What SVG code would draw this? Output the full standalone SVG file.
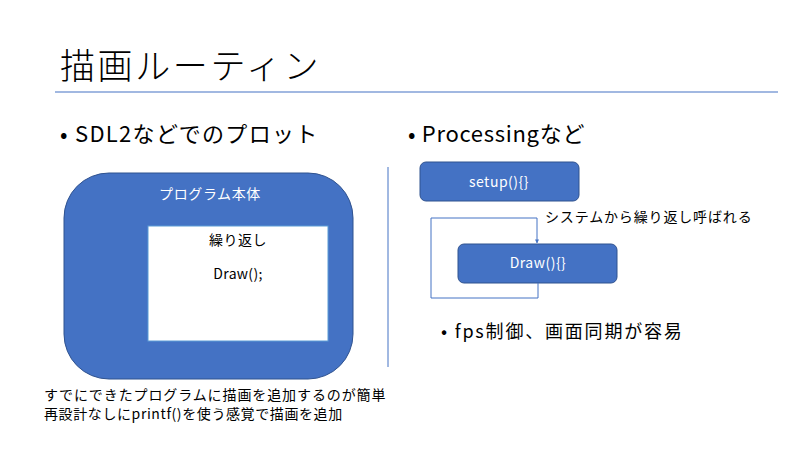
<svg xmlns="http://www.w3.org/2000/svg" width="800" height="450" viewBox="0 0 800 450">
<defs>
<style>
text{font-family:"Noto Sans CJK JP","Noto Sans",sans-serif;fill:#000}
.w{fill:#fff}
.box{fill:#4472C4;stroke:#2F528F;stroke-width:1}
.c{text-anchor:middle}
</style>
<marker id="ah" viewBox="0 0 10 10" refX="9" refY="5" markerWidth="4" markerHeight="4" orient="auto"><path d="M0,0L10,5L0,10z" fill="#4472C4"/></marker>
</defs>
<rect width="800" height="450" fill="#fff"/>
<g id="title">
<text x="60" y="79" font-size="35" font-weight="300" letter-spacing="2.6">描画ルーティン</text>
<line x1="55" y1="92" x2="778" y2="92" stroke="#4472C4" stroke-width="1.2"/>
</g>
<g id="bullet-left"><text x="60" y="142" font-size="22" letter-spacing="1.3">• SDL2などでのプロット</text></g>
<g id="bullet-right"><text x="408" y="142" font-size="22" letter-spacing="0.7">• Processingなど</text></g>
<line x1="388" y1="167" x2="388" y2="367" stroke="#4472C4" stroke-width="1"/>
<g id="program">
<rect class="box" x="64" y="173" width="289" height="206" rx="45"/>
<text class="w c" x="210" y="199" font-size="14" letter-spacing="0.6">プログラム本体</text>
</g>
<g id="loop">
<rect x="148" y="226" width="180" height="115" fill="#fff" stroke="#5B9BD5" stroke-width="1"/>
<text class="c" x="238" y="245" font-size="14" letter-spacing="0.5">繰り返し</text>
<text class="c" x="238" y="279" font-size="14" letter-spacing="0.3">Draw();</text>
</g>
<g id="note">
<text x="44" y="400" font-size="14" letter-spacing="0.9">すでにできたプログラムに描画を追加するのが簡単</text>
<text x="44" y="419" font-size="14" letter-spacing="0.6">再設計なしにprintf()を使う感覚で描画を追加</text>
</g>
<g id="setup">
<rect class="box" x="420" y="162" width="159" height="39" rx="6"/>
<text class="w c" x="499" y="187" font-size="14" letter-spacing="0.5">setup(){}</text>
</g>
<g id="draw">
<rect class="box" x="458" y="244" width="159" height="39" rx="6"/>
<text class="w c" x="538" y="268" font-size="14" letter-spacing="0.5">Draw(){}</text>
</g>
<g id="connectors">
<path d="M538,283V298H431V218H537V243" fill="none" stroke="#4472C4" stroke-width="1" marker-end="url(#ah)"/>
</g>
<g id="label"><text x="545" y="222" font-size="14" letter-spacing="0.85">システムから繰り返し呼ばれる</text></g>
<g id="bullet-fps"><text x="441" y="338" font-size="18" letter-spacing="1.8">• fps制御、画面同期が容易</text></g>
</svg>
